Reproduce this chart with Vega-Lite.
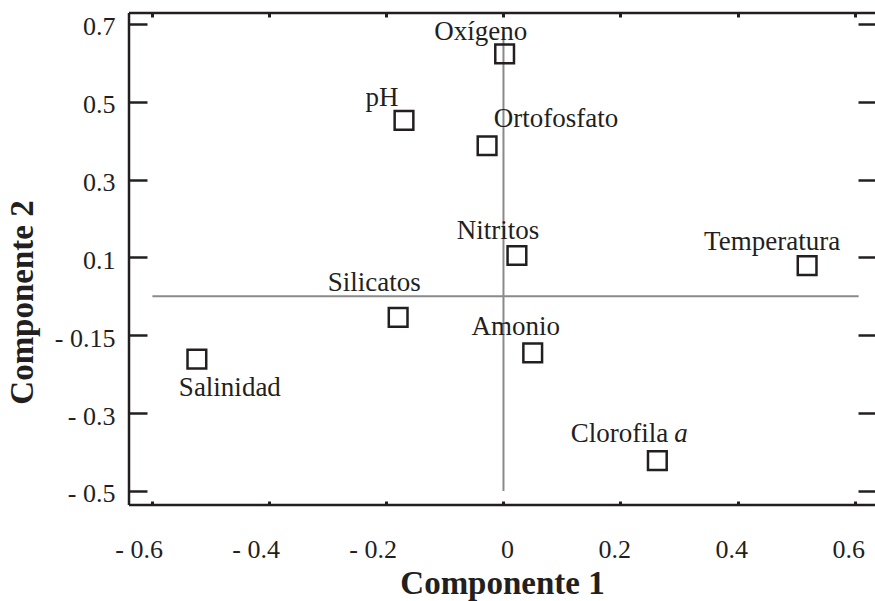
{
  "$schema": "https://vega.github.io/schema/vega-lite/v6.json",
  "width": 746,
  "height": 492,
  "autosize": {"type": "none"},
  "padding": {"left": 129, "top": 13, "right": 0, "bottom": 96},
  "background": "white",
  "config": {
    "view": {"stroke": null},
    "font": "Liberation Serif",
    "axis": {
      "domain": false,
      "tickColor": "#231f20",
      "grid": false,
      "labelColor": "#231f20",
      "labelFont": "Liberation Serif",
      "labelFontSize": 26,
      "titleColor": "#231f20",
      "titleFont": "Liberation Serif",
      "titleFontSize": 33,
      "titleFontWeight": "bold"
    },
    "text": {"font": "Liberation Serif", "fontSize": 27, "color": "#231f20", "baseline": "alphabetic"}
  },
  "datasets": {
    "variables": [
      {"nombre": "Oxígeno", "sufijo": "", "c1": 0.002, "c2": 0.623},
      {"nombre": "pH", "sufijo": "", "c1": -0.170, "c2": 0.452},
      {"nombre": "Ortofosfato", "sufijo": "", "c1": -0.028, "c2": 0.387},
      {"nombre": "Nitritos", "sufijo": "", "c1": 0.023, "c2": 0.105},
      {"nombre": "Temperatura", "sufijo": "", "c1": 0.519, "c2": 0.079},
      {"nombre": "Silicatos", "sufijo": "", "c1": -0.180, "c2": -0.054},
      {"nombre": "Salinidad", "sufijo": "", "c1": -0.524, "c2": -0.161},
      {"nombre": "Amonio", "sufijo": "", "c1": 0.050, "c2": -0.145},
      {"nombre": "Clorofila", "sufijo": "a", "c1": 0.263, "c2": -0.422}
    ],
    "marco_h": [
      {"c1": -0.64, "c1b": 0.635, "c2": 0.728},
      {"c1": -0.64, "c1b": 0.635, "c2": -0.536}
    ],
    "marco_v": [
      {"c1": -0.64, "c2": 0.728, "c2b": -0.536}
    ]
  },
  "resolve": {"axis": {"x": "independent", "y": "independent"}},
  "layer": [
    {
      "data": {"values": [{"c1": -0.6, "c1b": 0.607, "c2": 0}]},
      "mark": {"type": "rule", "color": "#8a8a8a", "strokeWidth": 2},
      "encoding": {
        "x": {"field": "c1", "type": "quantitative",
              "scale": {"domain": [-0.64, 0.635], "nice": false, "zero": false},
              "axis": {"orient": "top", "values": [-0.6, -0.4, -0.2, 0, 0.2, 0.4, 0.6],
                       "labels": false, "title": null, "tickSize": 4, "offset": -4, "tickWidth": 3}},
        "x2": {"field": "c1b"},
        "y": {"field": "c2", "type": "quantitative",
              "scale": {"domain": [-0.536, 0.728], "nice": false, "zero": false},
              "axis": {"orient": "right", "values": [0.7, 0.5, 0.3, 0.1, -0.1, -0.3, -0.5],
                       "labels": false, "title": null, "tickSize": 17, "offset": -17, "tickWidth": 2.5}}
      }
    },
    {
      "data": {"values": [{"c1": 0, "c2": 0.68, "c2b": -0.5}]},
      "mark": {"type": "rule", "color": "#8a8a8a", "strokeWidth": 2},
      "encoding": {
        "x": {"field": "c1", "type": "quantitative", "axis": null},
        "y": {"field": "c2", "type": "quantitative", "axis": null},
        "y2": {"field": "c2b"}
      }
    },
    {
      "data": {"name": "marco_h"},
      "mark": {"type": "rule", "color": "#231f20", "strokeWidth": 2.5},
      "encoding": {
        "x": {"field": "c1", "type": "quantitative", "axis": null},
        "x2": {"field": "c1b"},
        "y": {"field": "c2", "type": "quantitative", "axis": null}
      }
    },
    {
      "data": {"name": "marco_v"},
      "mark": {"type": "rule", "color": "#231f20", "strokeWidth": 2.5},
      "encoding": {
        "x": {"field": "c1", "type": "quantitative", "axis": null},
        "y": {"field": "c2", "type": "quantitative", "axis": null},
        "y2": {"field": "c2b"}
      }
    },
    {
      "data": {"name": "variables"},
      "mark": {"type": "point", "shape": "square", "filled": false, "size": 350, "strokeWidth": 2.5, "color": "#231f20", "opacity": 1},
      "encoding": {
        "x": {"field": "c1", "type": "quantitative",
              "axis": {"orient": "bottom", "title": "Componente 1",
                       "values": [-0.6, -0.4, -0.2, 0, 0.2, 0.4, 0.6],
                       "labelExpr": "datum.value == 0 ? '0' : (datum.value < 0 ? '- ' + format(-datum.value, '.1f') : format(datum.value, '.1f'))",
                       "tickSize": 4, "offset": -4, "tickWidth": 3,
                       "labelAlign": "right", "labelOffset": 10, "labelBaseline": "alphabetic", "labelPadding": 52,
                       "titleBaseline": "alphabetic", "titleY": 92}},
        "y": {"field": "c2", "type": "quantitative",
              "axis": {"orient": "left", "title": "Componente 2",
                       "values": [0.7, 0.5, 0.3, 0.1, -0.1, -0.3, -0.5],
                       "labelExpr": "abs(datum.value + 0.1) < 1e-6 ? '- 0.15' : (datum.value < 0 ? '- ' + format(-datum.value, '.1f') : format(datum.value, '.1f'))",
                       "tickSize": 18, "offset": -18, "tickWidth": 2.5,
                       "labelAlign": "right", "labelBaseline": "middle", "labelOffset": 3, "labelPadding": 14,
                       "titleAngle": -90, "titleAlign": "center", "titleBaseline": "middle",
                       "titleX": -125, "titleY": 289}}
      }
    },
    {
      "data": {"name": "variables"},
      "transform": [{"filter": "datum.nombre == 'Oxígeno'"}],
      "mark": {"type": "text", "align": "center", "dx": -24, "dy": -14},
      "encoding": {"x": {"field": "c1", "type": "quantitative", "axis": null}, "y": {"field": "c2", "type": "quantitative", "axis": null}, "text": {"field": "nombre"}}
    },
    {
      "data": {"name": "variables"},
      "transform": [{"filter": "datum.nombre == 'pH'"}],
      "mark": {"type": "text", "align": "center", "dx": -22, "dy": -14},
      "encoding": {"x": {"field": "c1", "type": "quantitative", "axis": null}, "y": {"field": "c2", "type": "quantitative", "axis": null}, "text": {"field": "nombre"}}
    },
    {
      "data": {"name": "variables"},
      "transform": [{"filter": "datum.nombre == 'Ortofosfato'"}],
      "mark": {"type": "text", "align": "center", "dx": 69, "dy": -19},
      "encoding": {"x": {"field": "c1", "type": "quantitative", "axis": null}, "y": {"field": "c2", "type": "quantitative", "axis": null}, "text": {"field": "nombre"}}
    },
    {
      "data": {"name": "variables"},
      "transform": [{"filter": "datum.nombre == 'Nitritos'"}],
      "mark": {"type": "text", "align": "center", "dx": -19, "dy": -16},
      "encoding": {"x": {"field": "c1", "type": "quantitative", "axis": null}, "y": {"field": "c2", "type": "quantitative", "axis": null}, "text": {"field": "nombre"}}
    },
    {
      "data": {"name": "variables"},
      "transform": [{"filter": "datum.nombre == 'Temperatura'"}],
      "mark": {"type": "text", "align": "center", "dx": -35, "dy": -16},
      "encoding": {"x": {"field": "c1", "type": "quantitative", "axis": null}, "y": {"field": "c2", "type": "quantitative", "axis": null}, "text": {"field": "nombre"}}
    },
    {
      "data": {"name": "variables"},
      "transform": [{"filter": "datum.nombre == 'Silicatos'"}],
      "mark": {"type": "text", "align": "center", "dx": -24, "dy": -26},
      "encoding": {"x": {"field": "c1", "type": "quantitative", "axis": null}, "y": {"field": "c2", "type": "quantitative", "axis": null}, "text": {"field": "nombre"}}
    },
    {
      "data": {"name": "variables"},
      "transform": [{"filter": "datum.nombre == 'Salinidad'"}],
      "mark": {"type": "text", "align": "center", "dx": 33, "dy": 37},
      "encoding": {"x": {"field": "c1", "type": "quantitative", "axis": null}, "y": {"field": "c2", "type": "quantitative", "axis": null}, "text": {"field": "nombre"}}
    },
    {
      "data": {"name": "variables"},
      "transform": [{"filter": "datum.nombre == 'Amonio'"}],
      "mark": {"type": "text", "align": "center", "dx": -17, "dy": -18},
      "encoding": {"x": {"field": "c1", "type": "quantitative", "axis": null}, "y": {"field": "c2", "type": "quantitative", "axis": null}, "text": {"field": "nombre"}}
    },
    {
      "data": {"name": "variables"},
      "transform": [{"filter": "datum.nombre == 'Clorofila'"}],
      "mark": {"type": "text", "align": "right", "dx": 11, "dy": -19},
      "encoding": {"x": {"field": "c1", "type": "quantitative", "axis": null}, "y": {"field": "c2", "type": "quantitative", "axis": null}, "text": {"field": "nombre"}}
    },
    {
      "data": {"name": "variables"},
      "transform": [{"filter": "datum.sufijo != ''"}],
      "mark": {"type": "text", "align": "left", "fontStyle": "italic", "dx": 17, "dy": -19},
      "encoding": {"x": {"field": "c1", "type": "quantitative", "axis": null}, "y": {"field": "c2", "type": "quantitative", "axis": null}, "text": {"field": "sufijo"}}
    }
  ]
}
